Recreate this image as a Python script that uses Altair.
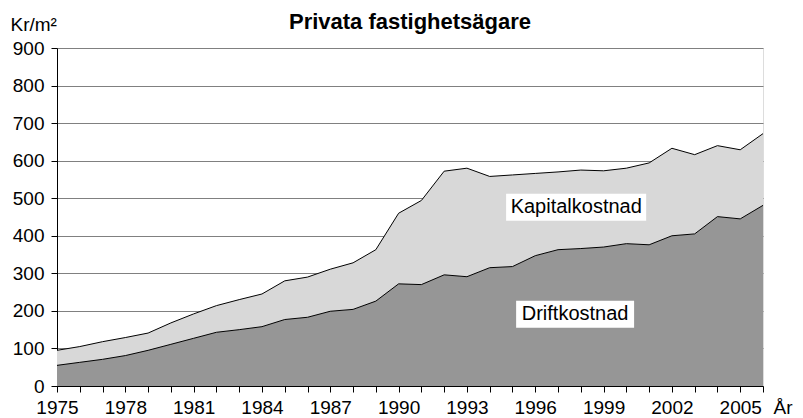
import altair as alt
import pandas as pd

years = list(range(1975, 2007))
driftkostnad = [55, 63, 71, 81, 95, 111, 127, 143, 150, 158, 177, 183, 199, 204, 226, 272,
                270, 296, 291, 315, 318, 347, 363, 366, 370, 379, 376, 400, 405, 451, 445, 481]
kapitalkostnad = [40, 42, 47, 48, 46, 57, 65, 71, 80, 87, 103, 107, 112, 124, 137, 188,
                  224, 276, 289, 243, 244, 219, 207, 209, 203, 201, 218, 233, 211, 189, 184, 191]
y_ticks = list(range(0, 1000, 100))
x_ticks = list(range(1975, 2007))

ann_labels = ["Kapitalkostnad", "Driftkostnad"]
ann_x = [1997.8, 1997.75]
ann_y = [476, 191]
ann_x1 = [1994.72, 1995.16]
ann_x2 = [2000.87, 2000.34]
ann_y1 = [440, 155]
ann_y2 = [512, 227]

df = pd.DataFrame({"year": years, "drift": driftkostnad, "kapital": kapitalkostnad})
df["total"] = df["drift"] + df["kapital"]
ann = pd.DataFrame({"label": ann_labels, "x": ann_x, "y": ann_y,
                    "x1": ann_x1, "x2": ann_x2, "y1": ann_y1, "y2": ann_y2})

FONT = "Liberation Sans"
xscale = alt.Scale(domain=[1975, 2006], nice=False, zero=False)
yscale = alt.Scale(domain=[0, 900], nice=False)

xaxis = alt.Axis(values=x_ticks, tickCount=100, format="d",
                 labelExpr="(datum.value - 1975) % 3 == 0 ? datum.label : ''",
                 labelOverlap=False, labelFlush=False, grid=False,
                 tickSize=6, tickColor="black", domainColor="black",
                 labelFontSize=19, labelFont=FONT, labelColor="black", labelPadding=6,
                 title="År", titleFont=FONT, titleFontSize=19, titleFontWeight="normal",
                 titleColor="black", titleX=716, titleY=27, titleAlign="left",
                 titleBaseline="alphabetic", titleAnchor="start")
yaxis = alt.Axis(values=y_ticks, tickCount=100, labelOverlap=False,
                 grid=True, gridColor="#808080", gridWidth=1,
                 tickSize=6, tickColor="black", domainColor="black",
                 labelFontSize=19, labelFont=FONT, labelColor="black", labelPadding=7,
                 title="Kr/m²", titleFont=FONT, titleFontSize=19, titleFontWeight="normal",
                 titleColor="black", titleAngle=0, titleX=-47, titleY=-18,
                 titleAlign="left", titleBaseline="alphabetic", titleAnchor="start")

base = alt.Chart(df)
area_drift = base.mark_area(color="#969696").encode(
    x=alt.X("year:Q", scale=xscale, axis=xaxis),
    y=alt.Y("drift:Q", scale=yscale, axis=yaxis, stack=None),
)
area_kap = base.mark_area(color="#d8d8d8").encode(
    x=alt.X("year:Q", scale=xscale, axis=xaxis),
    y=alt.Y("total:Q", scale=yscale, axis=yaxis, stack=None),
    y2=alt.Y2("drift:Q"),
)
line_drift = base.mark_line(color="black", strokeWidth=1).encode(
    x="year:Q", y="drift:Q")
line_total = base.mark_line(color="black", strokeWidth=1).encode(
    x="year:Q", y="total:Q")

boxes = alt.Chart(ann).mark_rect(color="white").encode(
    x="x1:Q", x2="x2:Q", y="y1:Q", y2="y2:Q")
texts = alt.Chart(ann).mark_text(font=FONT, fontSize=20, color="black",
                                 align="center", baseline="middle").encode(
    x="x:Q", y="y:Q", text="label:N")

chart = alt.layer(area_kap, area_drift, line_drift, line_total, boxes, texts).properties(
    width=706, height=338,
    title=alt.TitleParams("Privata fastighetsägare", font=FONT, fontSize=22,
                          fontWeight="bold", color="black", anchor="middle",
                          offset=18, baseline="alphabetic", dy=54),
    autosize=alt.AutoSizeParams(type="none"),
    padding={"left": 49, "top": 40, "right": 32, "bottom": 30},
).configure_view(stroke="#808080", strokeWidth=1).configure(background="white")

chart.save("out.html", embed_options={"renderer": "svg", "actions": False})
